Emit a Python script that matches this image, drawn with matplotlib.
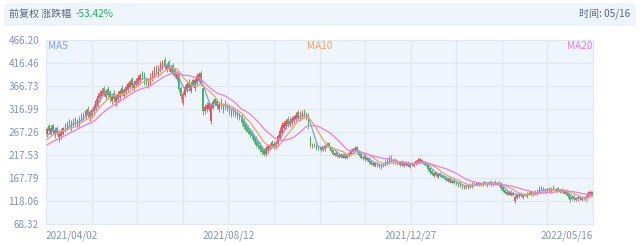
import numpy as np
import matplotlib
matplotlib.use("Agg")
import matplotlib.pyplot as plt
from matplotlib.patches import FancyBboxPatch

plt.rcParams['font.family'] = ['Noto Sans CJK SC', 'DejaVu Sans']

# ---------------- data ----------------
date_labels = ["2021/04/02", "2021/08/12", "2021/12/27", "2022/05/16"]
y_ticks = [68.32, 118.06, 167.79, 217.53, 267.26, 316.99, 366.73, 416.46, 466.20]
header_left = "前复权 涨跌幅"
header_pct = "-53.42%"
header_right = "时间: 05/16"
ma_names = ["MA5", "MA10", "MA20"]
ma_periods = [5, 10, 20]

# closes before the first shown day (used only for moving averages)
warmup_close = [218, 222, 220, 226, 224, 230, 228, 234, 232, 238,
                236, 242, 246, 244, 250, 248, 254, 258, 262]

close = [274, 270, 276, 268, 272, 266, 262, 270, 275, 282,
         286, 280, 288, 292, 285, 290, 296, 302, 306, 312,
         304, 310, 314, 322, 334, 346, 352, 356, 350, 355,
         348, 340, 346, 338, 344, 350, 356, 352, 358, 364,
         370, 375, 368, 374, 378, 384, 390, 386, 376, 372,
         380, 388, 396, 402, 398, 406, 414, 418, 410, 412,
         404, 406, 394, 388, 392, 360, 345, 350, 364, 370,
         362, 372, 368, 380, 388, 392, 372, 312, 322, 326,
         330, 326, 332, 328, 324, 328, 322, 326, 320, 316,
         310, 314, 308, 304, 300, 298, 288, 278, 272, 268,
         262, 258, 248, 240, 236, 230, 224, 220, 232, 236,
         240, 238, 242, 244, 258, 270, 282, 286, 290, 284,
         292, 296, 300, 304, 298, 306, 308, 302, 305, 280,
         238, 240, 236, 232, 230, 234, 229, 238, 242, 236,
         226, 220, 222, 216, 218, 214, 218, 212, 216, 222,
         226, 230, 232, 226, 218, 212, 214, 208, 210, 202,
         198, 196, 200, 194, 192, 196, 198, 202, 208, 212,
         204, 206, 200, 198, 202, 196, 198, 200, 194, 198,
         196, 200, 204, 206, 208, 200, 198, 196, 188, 180,
         176, 178, 174, 176, 172, 170, 168, 164, 166, 160,
         162, 158, 154, 156, 150, 148, 150, 146, 152, 150,
         156, 155, 157, 154, 156, 158, 155, 156, 160, 154,
         158, 156, 157, 154, 146, 140, 136, 134, 138, 132,
         136, 127, 130, 134, 128, 132, 130, 134, 136, 132,
         137, 135, 140, 146, 144, 142, 142, 144, 140, 145,
         143, 144, 140, 142, 138, 140, 134, 128, 121, 126,
         122, 124, 126, 122, 125, 123, 127, 136, 138, 130]

open_ = [262, 280, 264, 282, 260, 276, 256, 258, 264, 272,
         276, 292, 276, 282, 296, 280, 284, 292, 296, 300,
         318, 298, 302, 310, 318, 326, 340, 346, 362, 344,
         360, 354, 334, 352, 332, 338, 344, 362, 346, 354,
         358, 364, 382, 362, 368, 372, 378, 396, 392, 382,
         368, 374, 382, 390, 408, 392, 400, 406, 424, 402,
         418, 396, 412, 400, 382, 392, 362, 330, 348, 358,
         376, 356, 380, 362, 374, 380, 394, 362, 312, 316,
         318, 290, 320, 338, 334, 316, 334, 314, 332, 326,
         322, 304, 320, 314, 310, 306, 302, 294, 284, 278,
         272, 266, 260, 254, 246, 240, 234, 228, 220, 226,
         232, 246, 234, 236, 242, 254, 266, 276, 280, 296,
         282, 286, 292, 296, 310, 294, 300, 312, 298, 304,
         256, 236, 242, 238, 236, 228, 236, 230, 236, 244,
         234, 228, 218, 224, 214, 220, 212, 220, 210, 216,
         220, 224, 228, 234, 226, 220, 210, 216, 206, 210,
         204, 200, 194, 200, 198, 190, 194, 196, 198, 202,
         214, 200, 208, 202, 196, 204, 194, 196, 202, 192,
         200, 194, 198, 200, 202, 206, 202, 200, 196, 190,
         182, 172, 180, 170, 178, 174, 172, 168, 162, 168,
         158, 164, 160, 152, 158, 152, 146, 152, 146, 154,
         148, 158, 152, 158, 152, 154, 160, 152, 154, 160,
         152, 160, 154, 158, 156, 148, 142, 138, 132, 138,
         130, 119, 124, 128, 136, 126, 134, 128, 132, 138,
         130, 138, 134, 138, 148, 146, 138, 140, 146, 138,
         148, 140, 146, 138, 144, 136, 142, 136, 130, 122,
         128, 120, 122, 128, 120, 127, 122, 126, 132, 138]

wick_up = [5, 4, 6, 3, 5, 4, 5, 6, 4, 5,
           6, 4, 5, 6, 4, 5, 5, 6, 4, 6,
           5, 4, 6, 5, 7, 6, 5, 6, 4, 5,
           6, 5, 4, 5, 6, 5, 4, 6, 5, 5,
           6, 5, 4, 6, 5, 7, 5, 4, 6, 5,
           5, 6, 5, 7, 4, 6, 7, 5, 6, 4,
           5, 6, 4, 5, 6, 5, 4, 6, 5, 6,
           5, 6, 4, 5, 7, 6, 5, 4, 5, 6,
           5, 4, 6, 5, 4, 5, 6, 4, 5, 4,
           5, 6, 4, 5, 4, 5, 4, 5, 4, 5,
           4, 5, 4, 5, 4, 5, 4, 5, 6, 5,
           4, 5, 6, 5, 6, 7, 6, 5, 6, 5,
           7, 6, 5, 6, 5, 7, 6, 5, 6, 5,
           2, 3, 2, 3, 2, 3, 2, 4, 3, 2,
           3, 2, 3, 2, 3, 2, 3, 2, 3, 3,
           4, 3, 4, 3, 2, 3, 2, 3, 2, 3,
           2, 3, 2, 3, 2, 3, 2, 4, 3, 6,
           3, 2, 3, 2, 3, 2, 3, 2, 3, 2,
           3, 2, 3, 4, 3, 2, 3, 2, 3, 2,
           3, 2, 3, 2, 3, 2, 2, 3, 2, 3,
           2, 3, 2, 2, 3, 2, 3, 2, 3, 2,
           3, 2, 3, 2, 2, 3, 2, 3, 2, 3,
           2, 3, 2, 3, 2, 3, 2, 3, 2, 3,
           2, 3, 2, 3, 2, 3, 2, 3, 2, 3,
           2, 3, 3, 4, 2, 3, 2, 3, 2, 3,
           4, 2, 3, 2, 3, 2, 3, 2, 3, 2,
           3, 2, 3, 2, 3, 2, 3, 4, 3, 2]

wick_dn = [5, 6, 4, 5, 6, 5, 10, 5, 4, 5,
           4, 5, 6, 4, 5, 4, 5, 4, 6, 5,
           5, 6, 4, 5, 4, 5, 6, 4, 5, 6,
           5, 7, 6, 5, 8, 5, 6, 4, 5, 6,
           5, 4, 6, 5, 4, 5, 6, 5, 7, 5,
           6, 5, 4, 5, 6, 5, 4, 5, 6, 5,
           5, 4, 6, 5, 4, 7, 6, 5, 6, 5,
           6, 5, 4, 6, 5, 4, 5, 7, 6, 5,
           5, 6, 4, 5, 6, 5, 4, 6, 5, 4,
           5, 4, 6, 5, 4, 5, 6, 5, 4, 5,
           6, 5, 4, 5, 6, 5, 6, 5, 4, 5,
           4, 5, 4, 5, 6, 5, 4, 5, 6, 5,
           5, 4, 5, 4, 5, 4, 5, 4, 5, 6,
           4, 3, 2, 3, 2, 3, 2, 3, 2, 3,
           2, 3, 2, 3, 2, 3, 2, 3, 2, 3,
           2, 3, 2, 3, 2, 3, 4, 3, 2, 3,
           2, 3, 2, 3, 2, 3, 2, 3, 2, 3,
           2, 3, 2, 3, 2, 3, 2, 3, 2, 3,
           2, 3, 2, 3, 2, 3, 2, 3, 4, 3,
           2, 3, 2, 3, 2, 3, 2, 3, 2, 3,
           2, 3, 2, 3, 2, 3, 2, 3, 2, 3,
           2, 3, 2, 3, 2, 3, 2, 3, 2, 3,
           2, 3, 2, 3, 4, 3, 2, 3, 2, 3,
           2, 6, 2, 3, 2, 3, 2, 3, 2, 3,
           2, 3, 2, 3, 2, 3, 2, 3, 2, 3,
           2, 3, 2, 3, 2, 3, 2, 3, 6, 2,
           3, 2, 3, 2, 3, 2, 3, 2, 3, 2]

# ---------------- style ----------------
UP = '#eb5454'
DOWN = '#47b262'
MA_COLORS = ['#7f9ff0', '#f5a15f', '#f07dd6']
AX_TXT = '#8196c0'
PLOT_BG = '#eef5fd'
GRID = '#dfe8f2'

N = len(close)
c = np.array(close, float)
o = np.array(open_, float)
hi = np.maximum(o, c) + np.array(wick_up, float)
lo = np.minimum(o, c) - np.array(wick_dn, float)
x = np.arange(N) + 0.5

full = np.concatenate([np.array(warmup_close, float), c])

fig = plt.figure(figsize=(6.4, 2.45), dpi=100)
W, H = 640, 245

# header bar
hb = FancyBboxPatch((5 / W, 1 - 25 / H), 630 / W, 21 / H,
                    boxstyle="round,pad=0,rounding_size=0.008",
                    transform=fig.transFigure, facecolor='#eef5fc',
                    edgecolor='#e4edf7', linewidth=0.6)
fig.patches.append(hb)
t1 = fig.text(9 / W, 1 - 14 / H, header_left, fontsize=7.2, color='#5b6780',
              va='center', ha='left')
fig.canvas.draw()
bb = t1.get_window_extent()
fig.text((bb.x1 + 4) / W, 1 - 14 / H, header_pct, fontsize=7.2,
         color='#22b157', va='center', ha='left')
fig.text(630 / W, 1 - 14 / H, header_right, fontsize=7.2, color='#5b6780',
         va='center', ha='right')

left, right, top, bottom = 46, 593, 40, 224
ax = fig.add_axes([left / W, 1 - bottom / H, (right - left) / W, (bottom - top) / H])
ax.set_facecolor(PLOT_BG)
ax.set_xlim(0, N)
ax.set_ylim(y_ticks[0], y_ticks[-1])

# grid
for yt in y_ticks:
    ax.axhline(yt, color=GRID, lw=0.8, zorder=0)
for k in range(13):
    ax.axvline(N * k / 12, color=GRID, lw=0.8, zorder=0)

# candles
colors = [UP if cc >= oo else DOWN for oo, cc in zip(o, c)]
ax.vlines(x, lo, hi, colors=colors, lw=0.6, zorder=2)
body_h = np.maximum(np.abs(c - o), 0.8)
ax.bar(x, body_h, bottom=np.minimum(o, c), width=0.72, color=colors,
       linewidth=0, zorder=3)

# moving averages
for p, col in zip(ma_periods, MA_COLORS):
    ma = np.convolve(full, np.ones(p) / p, mode='valid')[-N:]
    ax.plot(x, ma, color=col, lw=0.9, zorder=4)

# MA labels
ax.text(0.004, 0.965, ma_names[0], transform=ax.transAxes, color=MA_COLORS[0],
        fontsize=7.2, ha='left', va='center')
ax.text(0.5, 0.965, ma_names[1], transform=ax.transAxes, color=MA_COLORS[1],
        fontsize=7.2, ha='center', va='center')
ax.text(0.998, 0.965, ma_names[2], transform=ax.transAxes, color=MA_COLORS[2],
        fontsize=7.2, ha='right', va='center')

ax.set_yticks(y_ticks)
ax.set_yticklabels([f"{v:.2f}" for v in y_ticks])
ax.set_xticks([0, N / 3, 2 * N / 3, N])
ax.set_xticklabels(date_labels)
xl = ax.get_xticklabels()
xl[0].set_ha('left')
xl[-1].set_ha('right')
ax.tick_params(axis='both', length=0, labelsize=7.2, colors=AX_TXT)
ax.tick_params(axis='y', pad=5)
ax.tick_params(axis='x', pad=5)
for s in ax.spines.values():
    s.set_color(GRID)
    s.set_linewidth(0.8)

fig.savefig("out.png", dpi=100, facecolor='white')
